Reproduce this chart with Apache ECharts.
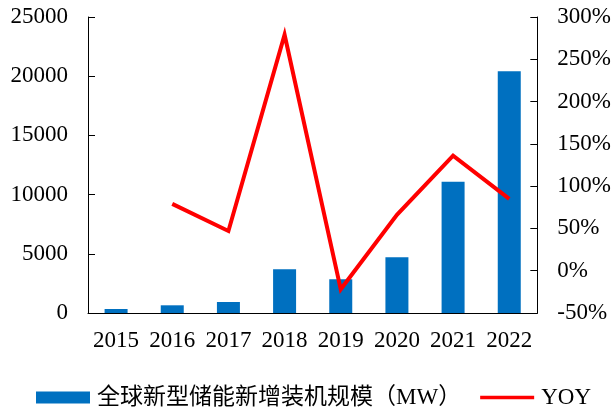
<!DOCTYPE html>
<html>
<head>
<meta charset="utf-8">
<script src="https://cdn.jsdelivr.net/npm/echarts@6/dist/echarts.min.js"></script>
<style>
html,body{margin:0;padding:0;background:#fff;}
#c{width:614px;height:408px;}
</style>
</head>
<body>
<div id="c"></div>
<script>
const categories = ['2015','2016','2017','2018','2019','2020','2021','2022'];
const capacityMW = [340, 650, 930, 3690, 2850, 4700, 11090, 20410];
const yoyPct = [null, 79, 47, 279, -22, 66, 136, 85];
const barName = '全球新型储能新增装机规模（MW）';
const lineName = 'YOY';

const FONT = '"Liberation Serif", "Times New Roman", "Noto Sans CJK SC", serif';
const chart = echarts.init(document.getElementById('c'), null, {renderer: 'canvas'});
const axisColor = '#000';
chart.setOption({
  animation: false,
  backgroundColor: '#fff',
  textStyle: {fontFamily: FONT},
  grid: {left: 88, right: 76, top: 17, bottom: 95},
  legend: {
    left: 31, top: 381,
    itemWidth: 54, itemHeight: 12, itemGap: 19,
    textStyle: {fontFamily: FONT, fontSize: 23, color: '#000', padding: [0,0,0,2]},
    data: [
      {name: barName, icon: 'rect'},
      {name: lineName, icon: 'path://M0,0 L54,0 L54,3.5 L0,3.5 Z'}
    ]
  },
  xAxis: {
    type: 'category',
    data: categories,
    boundaryGap: true,
    axisLine: {lineStyle: {color: axisColor, width: 1}},
    axisTick: {inside: true, length: 6, interval: 0, lineStyle: {color: axisColor}},
    axisLabel: {color: '#000', fontSize: 23, fontFamily: FONT, margin: 16, interval: 0}
  },
  yAxis: [{
    type: 'value', min: 0, max: 25000, interval: 5000,
    axisLine: {show: true, lineStyle: {color: axisColor, width: 1}},
    axisTick: {show: true, inside: true, length: 7, lineStyle: {color: axisColor}},
    splitLine: {show: false},
    axisLabel: {color: '#000', fontSize: 23, fontFamily: FONT, margin: 20, formatter: v => String(v)}
  }, {
    type: 'value', min: -50, max: 300, interval: 50, position: 'right',
    axisLine: {show: true, lineStyle: {color: axisColor, width: 1}},
    axisTick: {show: true, inside: true, length: 7, lineStyle: {color: axisColor}},
    splitLine: {show: false},
    axisLabel: {color: '#000', fontSize: 23, fontFamily: FONT, margin: 20, formatter: v => v + '%'}
  }],
  series: [{
    name: barName, type: 'bar', data: capacityMW, barWidth: 23,
    itemStyle: {color: '#0070C0'}
  }, {
    name: lineName, type: 'line', yAxisIndex: 1, data: yoyPct,
    symbol: 'none', showSymbol: false,
    lineStyle: {color: '#FF0000', width: 4, join: 'miter'},
    itemStyle: {color: '#FF0000'}
  }]
});
</script>
</body>
</html>
